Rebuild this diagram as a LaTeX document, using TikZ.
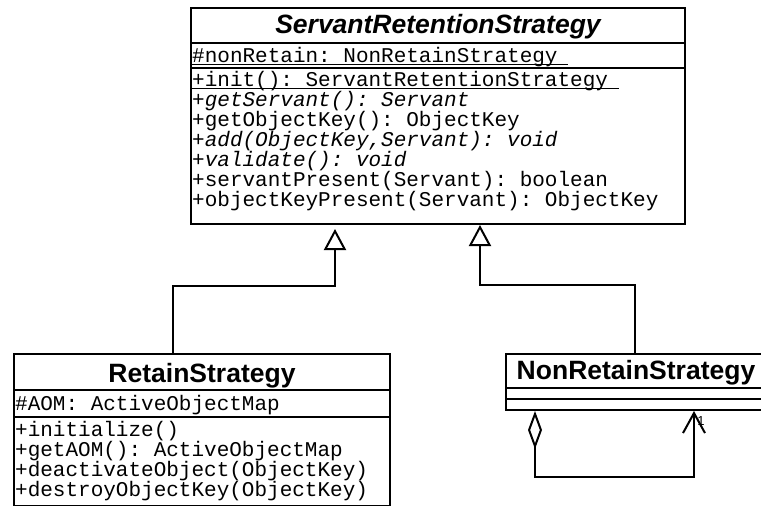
\documentclass[tikz,border=0pt]{standalone}
\usepackage{fontspec}
\setmainfont{Liberation Sans}
\setmonofont{Liberation Mono}
\usetikzlibrary{arrows.meta}

\newcommand\namefont{\fontsize{26.5pt}{26.5pt}\selectfont\bfseries}
\newcommand\memberfont{\fontsize{21pt}{21pt}\selectfont\ttfamily}
\newcommand\ulmember[1]{\setbox0\hbox{#1\hspace{0.5em}}\rlap{\rule[-3pt]{\wd0}{1.2pt}}\box0}

\tikzset{
  classbox/.style={draw, line width=2pt, inner sep=0pt, anchor=north west},
  classname/.style={font=\namefont, inner sep=0pt, anchor=base},
  member/.style={font=\memberfont, inner sep=0pt, anchor=base west},
  compsep/.style={line width=2pt},
  inherit/.style={line width=2pt, -{Triangle[open, length=21pt, width=22pt]}},
  selfassoc/.style={line width=2pt, {Diamond[open, length=38pt, width=14pt]}-{Straight Barb[length=20pt, width=22pt]}}
}

\begin{document}
\begin{tikzpicture}[x=1pt, y=-1pt]
  \useasboundingbox (0,0) rectangle (761,506);
  %% class boxes
  \node[classbox, minimum width=494pt, minimum height=216pt] (srs) at (190,7) {};
  \node[classbox, minimum width=376pt, minimum height=152pt] (retain) at (13,353) {};
  \node[classbox, minimum width=260pt, minimum height=56pt] (nrs) at (505,353) {};
  %% compartments
  \draw[compsep] ([yshift=-36pt]srs.north west) -- ([yshift=-36pt]srs.north east);
  \draw[compsep] ([yshift=-61pt]srs.north west) -- ([yshift=-61pt]srs.north east);
  \draw[compsep] ([yshift=-37pt]retain.north west) -- ([yshift=-37pt]retain.north east);
  \draw[compsep] ([yshift=-64pt]retain.north west) -- ([yshift=-64pt]retain.north east);
  \draw[compsep] ([yshift=-35pt]nrs.north west) -- ([yshift=-35pt]nrs.north east);
  \draw[compsep] ([yshift=-46pt]nrs.north west) -- ([yshift=-46pt]nrs.north east);
  %% class names
  \node[classname, font=\namefont\itshape] (srsname) at ([yshift=-26pt]srs.north) {ServantRetentionStrategy};
  \node[classname] (retainname) at ([yshift=-29pt]retain.north) {RetainStrategy};
  \node[classname] (nrsname) at ([yshift=-26pt]nrs.north) {NonRetainStrategy};
  %% ServantRetentionStrategy members
  \node[member] (srsattr) at (192,62) {\ulmember{\#nonRetain: NonRetainStrategy}};
  \foreach \op [count=\i] in {{\ulmember{+init(): ServantRetentionStrategy}},
      {\itshape +getServant(): Servant},
      {+getObjectKey(): ObjectKey},
      {\itshape +add(ObjectKey,Servant): void},
      {\itshape +validate(): void},
      {+servantPresent(Servant): boolean},
      {+objectKeyPresent(Servant): ObjectKey}}
    \node[member] (srsop\i) at (192,{86+20*(\i-1)}) {\op};
  %% RetainStrategy members
  \node[member] (retainattr) at (15,410) {\#AOM: ActiveObjectMap};
  \foreach \op [count=\i] in {{+initialize()},
      {+getAOM(): ActiveObjectMap},
      {+deactivateObject(ObjectKey)},
      {+destroyObjectKey(ObjectKey)}}
    \node[member] (retainop\i) at (15,{436+20*(\i-1)}) {\op};
  %% generalizations
  \draw[inherit] ([xshift=160pt]retain.north west) -- ++(0,-67) -| ([xshift=145pt,yshift=-4pt]srs.south west);
  \draw[inherit] ([xshift=130pt]nrs.north west) -- ++(0,-68) -| ([xshift=290pt]srs.south west);
  %% self association
  \draw[selfassoc] ([xshift=30pt]nrs.south west) -- ++(0,66) -| ([xshift=189pt]nrs.south west);
  \node[font=\fontsize{13pt}{13pt}\selectfont, inner sep=0pt] (mult) at (701,421) {1};
\end{tikzpicture}
\end{document}
